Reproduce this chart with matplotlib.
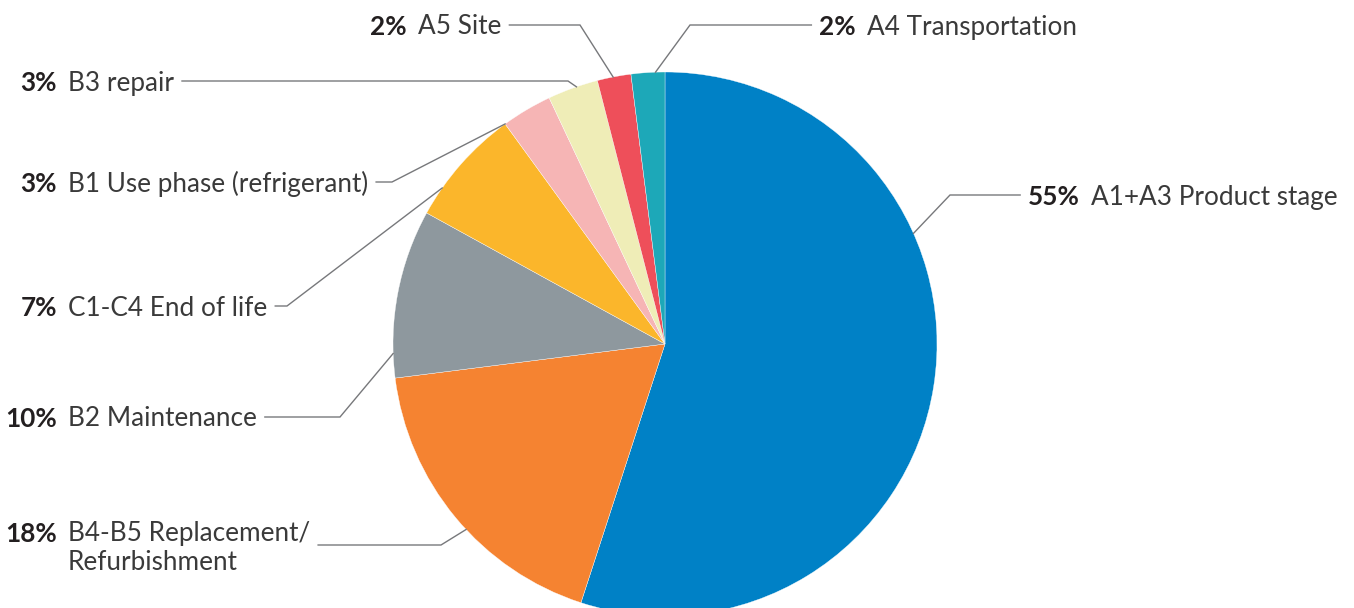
import numpy as np
import matplotlib
matplotlib.use("Agg")
from matplotlib import pyplot as plt

# slices clockwise from 12 o'clock
labels = ["A1+A3 Product stage", "B4-B5 Replacement/\nRefurbishment", "B2 Maintenance",
          "C1-C4 End of life", "B1 Use phase (refrigerant)", "B3 repair", "A5 Site",
          "A4 Transportation"]
shares = [55, 18, 10, 7, 3, 3, 2, 2]
colors = ["#0081C6", "#F58331", "#8E989E", "#FBB62B", "#F6B5B5", "#EFEDB7", "#EE4F5A", "#1DA8B8"]

W, H = 1354, 608
CX, CY, R = 665, 344, 272  # pixel coords, y down
FS = 18.8
FAM = ["Lato", "DejaVu Sans"]

# label layout: (angle on rim clockwise from top, elbow x, elbow y, text x, text y, side)
layout = [
    (66, 950, 195, 1080, 195, "right"),
    (227, 441, 545, 57, 532, "left"),
    (268, 340, 417, 57, 417, "left"),
    (305, 287, 306, 57, 306, "left"),
    (324, 392, 182, 57, 182, "left"),
    (341, 568, 81, 57, 81, "left"),
    (349, 580, 25, 407, 25, "left"),
    (358, 690, 25, 856, 25, "right"),
]

fig = plt.figure(figsize=(W / 100, H / 100), dpi=100)
ax = fig.add_axes([0, 0, 1, 1])

ax.pie(shares, colors=colors, startangle=90, counterclock=False,
       center=(CX, H - CY), radius=R,
       wedgeprops=dict(edgecolor="white", linewidth=0.25))
ax.set_xlim(0, W)
ax.set_ylim(0, H)
ax.set_aspect("equal")
ax.axis("off")

fig.canvas.draw()
renderer = fig.canvas.get_renderer()

line_color = "#77787B"
for (ang, ex, ey, tx, ty, side), share, lab in zip(layout, shares, labels):
    first = lab.split("\n")[0]
    pct = ax.text(tx, H - ty - 2, f"{share}%", ha="right", va="center", fontsize=FS,
                  family=FAM, fontweight="bold", color="#231F20")
    if "\n" in lab:
        ax.text(tx + 11, H - ty - 16, lab, ha="left", va="center", fontsize=FS,
                family=FAM, color="#3a3a3a", linespacing=1.2)
    else:
        ax.text(tx + 11, H - ty - 2, lab, ha="left", va="center", fontsize=FS,
                family=FAM, color="#3a3a3a")
    rad = np.deg2rad(ang)
    px = CX + R * np.sin(rad)
    py = CY - R * np.cos(rad)
    if side == "left":
        probe = ax.text(0, 0, first, fontsize=FS, family=FAM)
        bb = probe.get_window_extent(renderer)
        probe.remove()
        x_end = tx + 11 + bb.width + 8
    else:
        bb = pct.get_window_extent(renderer)
        x_end = tx - bb.width - 8
    xs = [x_end, ex, px]
    ys = [ey, ey, py]
    ax.plot(xs, [H - y for y in ys], color=line_color, lw=1.0, solid_joinstyle="miter")

fig.savefig("out.png", dpi=100)
